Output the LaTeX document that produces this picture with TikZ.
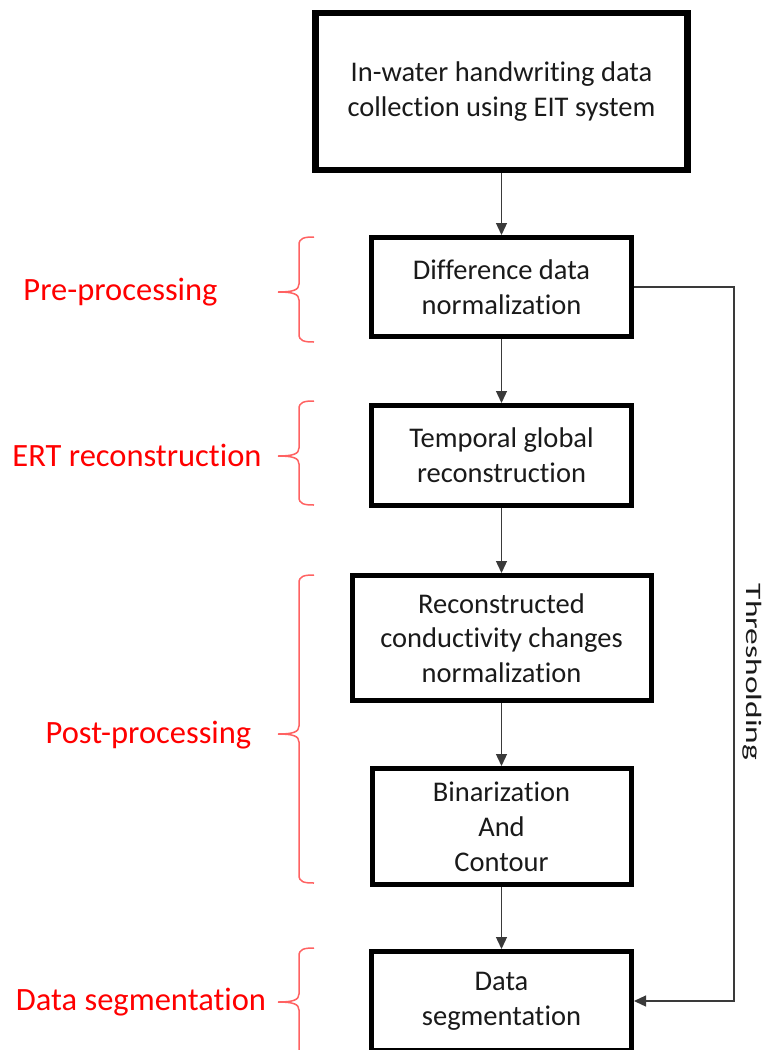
\documentclass[tikz,border=0pt]{standalone}
\usepackage{fontspec}
\setmainfont{Carlito}[Ligatures={NoCommon,NoContextual}]
\usetikzlibrary{arrows.meta}
\definecolor{bracered}{HTML}{FF6262}
\definecolor{arrowgray}{HTML}{3A3A3A}
\definecolor{boxtext}{HTML}{1A1A1A}
\newcommand{\redbrace}[3]{%
  \draw[bracestyle] (314,#1) .. controls (304,#1) and (299,#1+1) .. (299,#1+8)
    -- (299,#2-8) .. controls (299,#2-2) and (293,#2) .. (278,#2);
  \draw[bracestyle] (278,#2) .. controls (293,#2) and (299,#2+2) .. (299,#2+8)
    -- (299,#3-8) .. controls (299,#3-1) and (304,#3) .. (314,#3);
}
\begin{document}
\begin{tikzpicture}[x=1pt,y=-1pt,
  flowbox/.style={draw=black, line width=5pt, rectangle, inner sep=0pt, align=center,
    text=boxtext, font=\fontsize{28.5}{34.8}\selectfont},
  stagelabel/.style={text=red, anchor=base, inner sep=0pt, font=\fontsize{32.5}{39}\selectfont},
  bracestyle/.style={draw=bracered, line width=1.5pt},
  flowarrow/.style={draw=arrowgray, line width=1.3pt, -{Triangle[length=12pt,width=11pt]}},
  sidelabel/.style={inner sep=0pt, rotate=-90, text=boxtext, font=\fontsize{22}{26}\selectfont}]
\useasboundingbox (0,0) rectangle (772,1050);
\clip (0,0) rectangle (772,1050);

\node[flowbox, line width=6.5pt, minimum width=372pt, minimum height=157pt] (b1) at (501.5,91.5)
  {In-water handwriting data\\collection using EIT system};
\node[flowbox, minimum width=260pt, minimum height=99pt] (b2) at (501.5,287)
  {Difference data\\normalization};
\node[flowbox, minimum width=260pt, minimum height=100pt] (b3) at (501.5,455.5)
  {Temporal global\\reconstruction};
\node[flowbox, minimum width=299pt, minimum height=125pt] (b4) at (501.5,638)
  {Reconstructed\\conductivity changes\\normalization};
\node[flowbox, minimum width=259pt, minimum height=116pt] (b5) at (501.5,826.5)
  {Binarization\\And\\Contour};
\node[flowbox, minimum width=260pt, minimum height=99pt] (b6) at (501.5,1001)
  {Data\\segmentation};

\draw[flowarrow] (b1) -- (b2);
\draw[flowarrow] (b2) -- (b3);
\draw[flowarrow] (b3) -- (b4);
\draw[flowarrow] (b4) -- (b5);
\draw[flowarrow] (b5) -- (b6);

\coordinate (rail) at (734,0);
\draw[flowarrow] (b2.east) -- (b2.east -| rail) -- (b6.east -| rail) -- (b6.east);
\node[sidelabel] (thr) at (752,672) {\scalebox{1.52}[1]{Thresholding}};

\node[stagelabel] (l1) at (120.5,300) {Pre-processing};
\node[stagelabel] (l2) at (137,466) {ERT reconstruction};
\node[stagelabel] (l3) at (148.5,743) {Post-processing};
\node[stagelabel] (l4) at (141,1010) {Data segmentation};

\redbrace{237}{292}{342}
\redbrace{401}{456}{505}
\redbrace{575}{734}{883}
\redbrace{948}{1002}{1058}
\end{tikzpicture}
\end{document}
